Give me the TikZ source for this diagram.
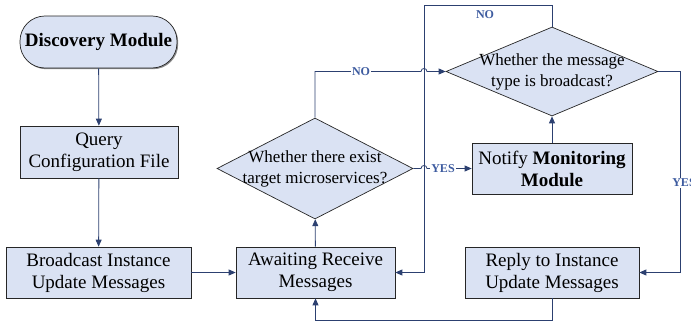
\documentclass[tikz,border=0pt]{standalone}
\usepackage{fontspec}
\setmainfont{Liberation Serif}
\usetikzlibrary{arrows.meta,calc,shapes.geometric,shadows}
\definecolor{boxfill}{RGB}{218,226,243}
\definecolor{linec}{RGB}{44,64,112}
\definecolor{labc}{RGB}{62,92,160}
\tikzset{
  box/.style={draw=black!85, fill=boxfill, line width=0.7pt, inner sep=0pt, align=center,
    font=\fontsize{19}{22}\selectfont,
    drop shadow={shadow xshift=1.2pt, shadow yshift=-1.2pt, fill=black!45, opacity=1}},
  pill/.style={box, rounded corners=25pt, drop shadow={shadow xshift=0pt, shadow yshift=0pt, opacity=0}},
  dia/.style={draw=black!85, fill=boxfill, line width=0.7pt, shape=diamond, inner sep=0pt},
  diatext/.style={align=center, inner sep=0pt, font=\fontsize{17}{21}\selectfont},
  conn/.style={draw=linec, line width=0.8pt, -{Triangle[length=7pt,width=6pt]}},
  lab/.style={text=labc, font=\bfseries\fontsize{12}{14}\selectfont, fill=white, inner sep=1pt},
  labnf/.style={text=labc, font=\bfseries\fontsize{12}{14}\selectfont, inner sep=1pt}
}
\begin{document}
\begin{tikzpicture}[x=1pt,y=-1pt]
\useasboundingbox (0,0) rectangle (691,324);
\coordinate (topy) at (0,5);
\coordinate (boty) at (0,320);
\coordinate (rightx) at (680,0);
\coordinate (midx) at (424,0);

\node[pill, minimum width=157pt, minimum height=52pt] (disc) at (98.5,42) {\bfseries Discovery Module};
\node[box, minimum width=158pt, minimum height=52pt] (query) at (99,152) {Query\\Configuration File};
\node[box, minimum width=185pt, minimum height=51pt] (bcast) at (98.5,272.5) {Broadcast Instance\\Update Messages};
\node[box, minimum width=159pt, minimum height=51pt] (await) at (315.5,272.5) {Awaiting Receive\\Messages};
\node[box, minimum width=160pt, minimum height=51pt] (notify) at (552,168.5) {Notify \textbf{Monitoring}\\\textbf{Module}};
\node[box, minimum width=174pt, minimum height=51pt] (reply) at (552,272.5) {Reply to Instance\\Update Messages};

\node[dia, minimum width=196pt, minimum height=101pt] (d1) at (315,168.5) {};
\node[diatext] (d1t) at (d1.center) {Whether there exist\\target microservices?};
\node[dia, minimum width=212pt, minimum height=89pt] (d2) at (552,71.5) {};
\node[diatext] (d2t) at (d2.center) {Whether the message\\type is broadcast?};

\draw[conn] (disc) -- (query);
\draw[conn] (query) -- (bcast);
\draw[conn] (bcast) -- (await);
\draw[conn] (await) -- (d1);
\draw[conn] (notify) -- (d2);

% NO branch of d1 to d2 with hop
\draw[conn] (d1.north) -- (d1.north |- d2.west)
  -- ($(midx |- d2.west)+(-3,0)$) .. controls ($(midx |- d2.west)+(-3,-4)$) and ($(midx |- d2.west)+(3,-4)$) .. ($(midx |- d2.west)+(3,0)$)
  -- (d2.west);
\node[lab] (no1) at (361,71.5) {NO};

% YES branch of d1 to notify with hop
\draw[conn] (d1.east)
  -- ($(midx |- d1.east)+(-3,0)$) .. controls ($(midx |- d1.east)+(-3,-4)$) and ($(midx |- d1.east)+(3,-4)$) .. ($(midx |- d1.east)+(3,0)$)
  -- (notify.west);
\node[lab] (yes1) at (443,168.5) {YES};

% NO branch of d2 back to await
\draw[conn] (d2.north) -- (d2.north |- topy) -- (midx |- topy) -- (midx |- await.east) -- (await.east);
\node[labnf] (no2) at (485,15) {NO};

% YES branch of d2 to reply
\draw[conn] (d2.east) -- (rightx |- d2.east) -- (rightx |- reply.east) -- (reply.east);
\node[lab] (yes2) at (684,183) {YES};

% reply back to await
\draw[conn] (reply.south) -- (reply.south |- boty) -- (await.south |- boty) -- (await.south);
\end{tikzpicture}
\end{document}
